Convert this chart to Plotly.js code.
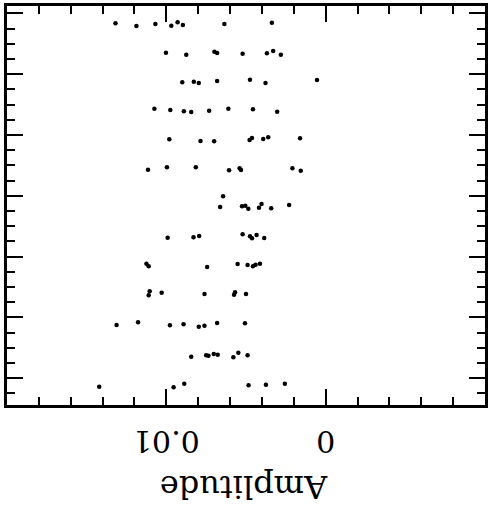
<!DOCTYPE html>
<html><head><meta charset="utf-8">
<script src="https://cdn.plot.ly/plotly-3.0.1.min.js"></script>
<style>html,body{margin:0;padding:0;background:#fff;}</style>
</head><body><div id="chart" style="width:492px;height:511px;"></div>
<script>
// Amplitude of each point (x) and its vertical position in axis units (y)
const amplitude = [
  0.01319, 0.011875, 0.010688, 0.009688, 0.009294, 0.008963, 0.006356, 0.003375,
  0.010025, 0.00875, 0.006981, 0.006813, 0.005213, 0.003688, 0.003294, 0.002813,
  0.009, 0.008275, 0.007963, 0.006813, 0.00475, 0.003775, 0.000544,
  0.01075, 0.00975, 0.0089, 0.008438, 0.007313, 0.006106, 0.004563, 0.003044,
  0.009813, 0.007856, 0.007, 0.004775, 0.004625, 0.003919, 0.003606, 0.001606,
  0.01115, 0.009963, 0.00815, 0.006063, 0.0054, 0.005313, 0.002088, 0.001563,
  0.006438, 0.006625, 0.00525, 0.005044, 0.004856, 0.004188, 0.004025, 0.003419, 0.002294,
  0.009919, 0.008294, 0.007938, 0.005213, 0.00475, 0.004625, 0.004338, 0.003856,
  0.01125, 0.011106, 0.007438, 0.005525, 0.0049, 0.004563, 0.0044, 0.004125,
  0.011044, 0.011106, 0.010294, 0.007606, 0.005688, 0.00575, 0.005,
  0.013125, 0.011775, 0.009775, 0.008919, 0.007963, 0.007606, 0.006813, 0.005063,
  0.008438, 0.0075, 0.007356, 0.007025, 0.006775, 0.005794, 0.005481, 0.0049,
  0.014213, 0.009544, 0.008875, 0.004838, 0.00375, 0.002563
];
const position = [
  0.645, 0.822, 0.691, 0.803, 0.579, 0.757, 0.691, 0.605,
  2.579, 2.711, 2.513, 2.599, 2.645, 2.618, 2.467, 2.711,
  4.526, 4.487, 4.572, 4.441, 4.355, 4.572, 4.375,
  6.263, 6.349, 6.434, 6.480, 6.395, 6.263, 6.303, 6.461,
  8.276, 8.388, 8.408, 8.322, 8.191, 8.257, 8.145, 8.211,
  10.276, 10.118, 10.118, 10.316, 10.184, 10.296, 10.184, 10.342,
  12.026, 12.730, 12.684, 12.645, 12.842, 12.776, 12.533, 12.816, 12.599,
  14.750, 14.724, 14.638, 14.526, 14.658, 14.789, 14.572, 14.770,
  16.461, 16.632, 16.678, 16.480, 16.546, 16.632, 16.526, 16.461,
  18.276, 18.539, 18.368, 18.454, 18.342, 18.500, 18.454,
  20.493, 20.316, 20.513, 20.447, 20.605, 20.539, 20.362, 20.382,
  22.579, 22.487, 22.513, 22.401, 22.447, 22.618, 22.316, 22.487,
  24.553, 24.592, 24.355, 24.461, 24.421, 24.355
];
const xTickVals = [0.01, 0];
const xTickText = ['0.01', '0'];
const xTitle = 'Amplitude';

const serif = 'DejaVu Serif, Liberation Serif, serif';

const trace = {
  type: 'scatter', mode: 'markers',
  x: amplitude, y: position,
  marker: {color: '#000', size: 4.5},
  hoverinfo: 'skip'
};

const layout = {
  width: 492, height: 511,
  margin: {l: 7, r: 7, t: 6, b: 106},
  paper_bgcolor: '#fff', plot_bgcolor: '#fff',
  showlegend: false,
  xaxis: {
    range: [0.02, -0.01],
    tickmode: 'array', tickvals: xTickVals, ticktext: xTickText,
    ticks: 'inside', ticklen: 16, tickwidth: 2, tickcolor: '#000',
    minor: {tickmode: 'linear', tick0: 0, dtick: 0.002, ticks: 'inside', ticklen: 8, tickwidth: 2, tickcolor: '#000', showgrid: false},
    tickangle: 180,
    ticklabelstandoff: 17,
    tickfont: {family: serif, size: 30, color: '#000'},
    showline: true, linewidth: 2.8, linecolor: '#000', mirror: 'ticks',
    showgrid: false, zeroline: false
  },
  yaxis: {
    range: [25.76, -0.49],
    tickmode: 'linear', tick0: 0, dtick: 4,
    ticks: 'inside', ticklen: 16, tickwidth: 2, tickcolor: '#000',
    minor: {tickmode: 'linear', tick0: 0, dtick: 1, ticks: 'inside', ticklen: 8, tickwidth: 2, tickcolor: '#000', showgrid: false},
    showticklabels: false,
    showline: true, linewidth: 2.8, linecolor: '#000', mirror: 'ticks',
    showgrid: false, zeroline: false
  },
  annotations: [{
    text: xTitle, xref: 'paper', yref: 'paper', x: 0.497, y: -0.2055,
    xanchor: 'center', yanchor: 'middle', showarrow: false, textangle: 180,
    font: {family: serif, size: 32, color: '#000'}
  }]
};

Plotly.newPlot('chart', [trace], layout, {staticPlot: true, displayModeBar: false});
</script>
</body></html>
